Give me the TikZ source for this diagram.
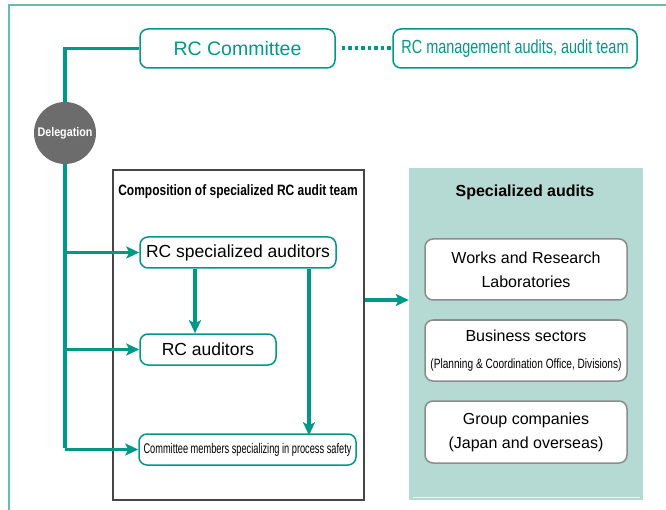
\documentclass[tikz,border=0pt]{standalone}
\usepackage{fontspec}
\setmainfont{Liberation Sans}
\newfontfamily\nA[FakeStretch=0.76]{Liberation Sans}
\newfontfamily\nB[FakeStretch=0.80]{Liberation Sans}
\newfontfamily\nC[FakeStretch=0.75]{Liberation Sans}
\newfontfamily\nD[FakeStretch=0.66]{Liberation Sans}
\newfontfamily\nE[FakeStretch=0.86]{Liberation Sans}
\usetikzlibrary{arrows.meta}
\definecolor{teal1}{RGB}{0,153,136}
\definecolor{frame1}{RGB}{100,190,176}
\definecolor{specfill}{RGB}{180,218,211}
\definecolor{delgray}{RGB}{108,108,108}
\definecolor{boxgray}{RGB}{140,140,140}
\definecolor{compgray}{RGB}{70,70,70}
\tikzset{
  tealbox/.style={draw=teal1, line width=1.5pt, rounded corners=8pt, fill=white, inner sep=0pt},
  graybox/.style={draw=boxgray, line width=1.5pt, rounded corners=8pt, fill=white, inner sep=0pt, align=center, font=\fontsize{16}{24}\selectfont},
  tline/.style={draw=teal1, line width=3.5pt},
  tarrow/.style={draw=teal1, line width=3.5pt, -{Stealth[length=13pt,width=12pt,inset=3pt]}},
}
\begin{document}
\begin{tikzpicture}[x=1pt,y=-1pt]
\useasboundingbox (0,0) rectangle (666,510);
% outer frame
\draw[frame1, line width=1.2pt] (9,510) -- (9,5) -- (667,5);
% top nodes
\node[tealbox, minimum width=195pt, minimum height=39pt, text=teal1] (rccom) at (237.5,48.5) {\fontsize{19.5}{21}\selectfont RC Committee};
\node[tealbox, minimum width=244pt, minimum height=39pt, text=teal1] (rcmgmt) at (515,48.5) {\nA\fontsize{19}{21}\selectfont RC management audits, audit team};
\draw[teal1, line width=4pt, dash pattern=on 3.5pt off 3pt] (rccom.east) ++(6,0) -- (rcmgmt.west);
% delegation
\node[circle, fill=delgray, minimum size=62pt, inner sep=0pt, text=white] (deleg) at (65,133) {\nE\bfseries\fontsize{12.5}{14}\selectfont Delegation};
% composition box
\node[draw=compgray, line width=2pt, minimum width=251pt, minimum height=330pt, inner sep=0pt] (comp) at (238.5,335) {};
\node (comptitle) at (238,192) {\nB\bfseries\fontsize{15}{17}\selectfont Composition of specialized RC audit team};
\node[tealbox, minimum width=196pt, minimum height=31pt] (rcspec) at (238,252.5) {\fontsize{17.5}{19}\selectfont RC specialized auditors};
\node[tealbox, minimum width=136pt, minimum height=31pt] (rcaud) at (208,349.5) {\fontsize{17.5}{19}\selectfont RC auditors};
\node[tealbox, minimum width=217pt, minimum height=31pt] (cmtm) at (247.5,449.5) {\nD\fontsize{14}{16}\selectfont Committee members specializing in process safety};
% specialized audits
\node[fill=specfill, minimum width=234pt, minimum height=332pt, inner sep=0pt] (spec) at (526,334) {};
\draw[white!70!specfill, line width=0.8pt] (413,497) -- (640,497);
\node (spectitle) at (525,192) {\bfseries\fontsize{16}{18}\selectfont Specialized audits};
\node[graybox, minimum width=202pt, minimum height=61pt] (b1) at (526,269.5) {Works and Research\\Laboratories};
\node[graybox, minimum width=202pt, minimum height=61pt] (b2) at (526,350.5) {Business sectors\\[3pt]{\nC\fontsize{13.5}{16}\selectfont (Planning \& Coordination Office, Divisions)}};
\node[graybox, minimum width=202pt, minimum height=62pt] (b3) at (526,432) {Group companies\\(Japan and overseas)};
% connectors
\coordinate (xa) at (195,0);
\coordinate (xb) at (309,0);
\coordinate (ym) at (0,300);
\draw[tline] (rccom.west) -| (deleg.north);
\draw[tline] (deleg.south) -- ([yshift=1.75pt]deleg.south |- cmtm.west);
\draw[tarrow] (deleg.south |- rcspec.west) -- (rcspec.west);
\draw[tarrow] (deleg.south |- rcaud.west) -- (rcaud.west);
\draw[tarrow] (deleg.south |- cmtm.west) -- (cmtm.west);
\draw[tarrow] (rcspec.south -| xa) -- (rcaud.north -| xa);
\draw[tarrow] (rcspec.south -| xb) -- ([yshift=-2pt]cmtm.north -| xb);
\draw[tarrow] (comp.east |- ym) -- (spec.west |- ym);
\end{tikzpicture}
\end{document}
